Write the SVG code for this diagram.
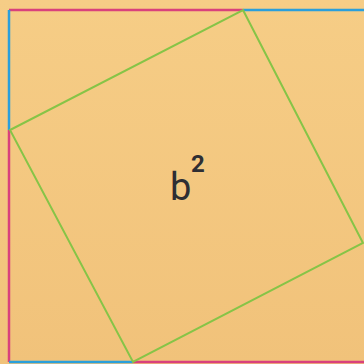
<svg xmlns="http://www.w3.org/2000/svg" width="364" height="364" viewBox="0 0 364 364">
<defs>
<linearGradient id="bg" x1="0" y1="0" x2="0" y2="1">
<stop offset="0" stop-color="#F6CD86"/>
<stop offset="1" stop-color="#F1C27A"/>
</linearGradient>
<style>
.m{stroke:#D9417C;stroke-width:2.5;fill:none}
.b{stroke:#2A9FDB;stroke-width:2.5;fill:none}
.g{stroke:#86C447;stroke-width:2;fill:none}
.t{font-family:Roboto,"Liberation Sans",sans-serif;fill:#2E2E33}
</style>
</defs>
<rect width="364" height="364" fill="url(#bg)"/>
<g id="outer">
<line class="m" x1="9" y1="10" x2="243" y2="10"/>
<line class="b" x1="243" y1="10" x2="364" y2="10"/>
<line class="b" x1="9" y1="10" x2="9" y2="130"/>
<line class="m" x1="9" y1="130" x2="9" y2="362"/>
<line class="b" x1="9" y1="362" x2="133" y2="362"/>
<line class="m" x1="133" y1="362" x2="364" y2="362"/>
</g>
<g id="square">
<polygon class="g" points="243,10 363,243 133,362 10,130"/>
</g>
<g id="label">
<text class="t" x="170" y="200" font-size="38">b</text>
<text class="t" x="191" y="172" font-size="24" font-weight="bold">2</text>
</g>
</svg>
